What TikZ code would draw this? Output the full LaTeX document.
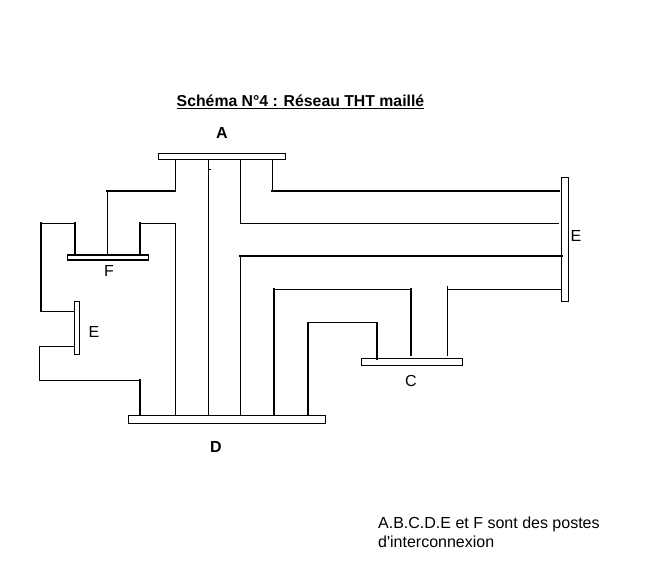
\documentclass[tikz,border=0pt]{standalone}
\usepackage{fontspec}
\setmainfont{Liberation Sans}
\newfontfamily\notefont{Liberation Sans}
\begin{document}
\begin{tikzpicture}[
  x=1pt, y=-1pt,
  bar/.style={draw, fill=white, rectangle, line width=1pt, inner sep=0pt, outer sep=0pt},
  barx/.style={bar, line width=1.5pt},
  lab/.style={font=\fontsize{16}{16}\selectfont, inner sep=0pt},
  labx/.style={font=\fontsize{16}{16}\selectfont\bfseries, inner sep=0pt},
  feeder/.style={line width=1pt, line cap=rect},
  trunk/.style={line width=2pt, line cap=rect}
]
\useasboundingbox (0,0) rectangle (664,584);
\node[bar]  (A)  at (222,156)   [minimum width=127pt, minimum height=6pt] {};
\node[barx] (F)  at (108,257.5) [minimum width=81pt, minimum height=5pt] {};
\node[barx] (E1) at (77,328)    [minimum width=5pt, minimum height=53pt] {};
\node[bar]  (D)  at (227,419)   [minimum width=197pt, minimum height=8pt] {};
\node[barx] (E2) at (565,239.5) [minimum width=7pt, minimum height=124pt] {};
\node[bar]  (C)  at (412,362)   [minimum width=101pt, minimum height=7pt] {};

\node[font=\fontsize{15.8}{16}\selectfont\bfseries, inner sep=0pt] (title) at (300.5,102) {\underline{Schéma N°4 : Réseau THT maillé}};
\node[labx] (labA)  at (222,133) {A};
\node[lab]  (labF)  at (109,271) {F};
\node[lab]  (labE1) at (94,332)  {E};
\node[lab]  (labE2) at (576,236) {E};
\node[lab]  (labC)  at (411,381) {C};
\node[labx] (labD)  at (216,447) {D};
\node[font=\fontsize{16}{19}\selectfont\notefont, inner sep=0pt, anchor=north west, align=left] (note) at (378,517)
  {A.B.C.D.E et F sont des postes\\d'interconnexion};

\coordinate (a1) at (175,191);
\coordinate (a2) at (107,191);
\coordinate (a3) at (272,191);
\coordinate (a4) at (559,191);
\coordinate (b1) at (140,223);
\coordinate (b2) at (175,223);
\coordinate (b3) at (75,223);
\coordinate (b4) at (41,223);
\coordinate (b5) at (41,311);
\coordinate (b6) at (240,223);
\coordinate (b7) at (558,223);
\coordinate (d1) at (39.5,346);
\coordinate (d2) at (39.5,380);
\coordinate (d3) at (140,380);
\coordinate (g1) at (240,256);
\coordinate (h1) at (274,289);
\coordinate (h2) at (411,289);
\coordinate (h3) at (411,355);
\coordinate (k1) at (308,322.5);
\coordinate (k2) at (377,322.5);
\coordinate (m1) at (447,286);
\coordinate (m2) at (447,289);
\coordinate (m3) at (447,355);
\coordinate (t1) at (208,169);
\coordinate (t2) at (210,169);

\draw[feeder] (A.south -| a1) -- (a1);
\draw[trunk]  (a1) -- (a2);
\draw[feeder] (a2) -- (F.north -| a2);
\draw[feeder] (A.south -| a3) -- (a3);
\draw[trunk]  (a3) -- (a4);
\draw[trunk]  (b1) -- (F.north -| b1);
\draw[feeder] (b1) -- (b2) -- (D.north -| b2);
\draw[trunk]  (b3) -- (F.north -| b3);
\draw[feeder] (b3) -- (b4);
\draw[trunk]  (b4) -- (b5);
\draw[feeder] (b5) -- (E1.west |- b5);
\draw[feeder] (A.south -| t1) -- (D.north -| t1);
\draw[feeder] (t1) -- (t2);
\draw[feeder] (A.south -| b6) -- (b6) -- (b7);
\draw[feeder] (E1.west |- d1) -- (d1) -- (d2) -- (d3);
\draw[trunk]  (d3) -- (D.north -| d3);
\draw[feeder] (D.north -| g1) -- (g1);
\draw[trunk]  (g1) -- (E2.west |- g1);
\draw[trunk]  (D.north -| h1) -- (h1);
\draw[feeder] (h1) -- (h2);
\draw[trunk]  (h2) -- (h3);
\draw[trunk]  (D.north -| k1) -- (k1);
\draw[feeder] (k1) -- (k2);
\draw[trunk]  (k2) -- (C.north -| k2);
\draw[feeder] (m1) -- (m3);
\draw[feeder] (m2) -- (E2.west |- m2);
\end{tikzpicture}
\end{document}
